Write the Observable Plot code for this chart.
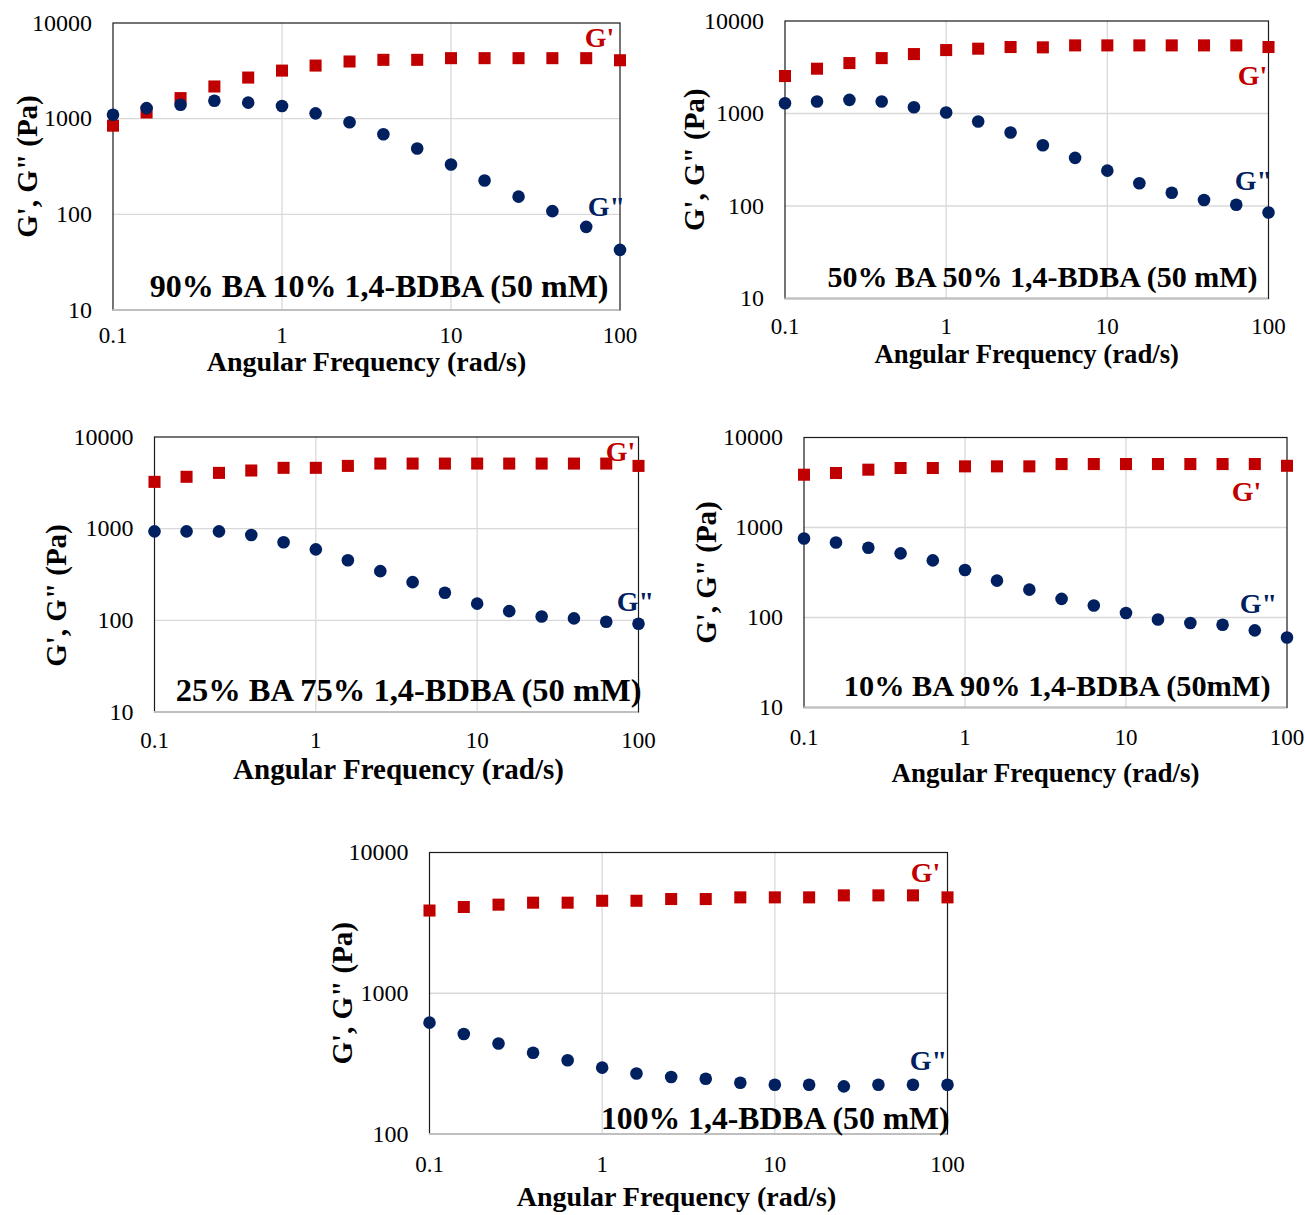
<!DOCTYPE html>
<html>
<head>
<meta charset="utf-8">
<script src="https://cdn.jsdelivr.net/npm/d3@7"></script>
<script src="https://cdn.jsdelivr.net/npm/@observablehq/plot@0.6"></script>
<style>
  body { margin: 0; background: #fff; }
  #fig { position: relative; width: 1305px; height: 1215px; background: #fff; overflow: hidden; }
</style>
</head>
<body>
<div id="fig"></div>
<script>
// ---------- DATA ----------
const freq = [0.1, 0.158, 0.251, 0.398, 0.631, 1, 1.58, 2.51, 3.98, 6.31, 10, 15.8, 25.1, 39.8, 63.1, 100];
const xTicks = [0.1, 1, 10, 100];
const xGrid = [1, 10];
const yTicksA = [10, 100, 1000, 10000];
const yTicksB = [100, 1000, 10000];
const panelTitles = [
  "90% BA 10% 1,4-BDBA (50 mM)",
  "50% BA 50% 1,4-BDBA (50 mM)",
  "25% BA 75% 1,4-BDBA (50 mM)",
  "10% BA 90% 1,4-BDBA (50mM)",
  "100% 1,4-BDBA (50 mM)"
];
const xTitle = "Angular Frequency (rad/s)";
const yTitle = "G', G\" (Pa)";
const gPrimeLabel = "G'";
const gDoubleLabel = "G\"";

const p1GPrime  = [845, 1160, 1640, 2170, 2690, 3180, 3590, 3960, 4120, 4120, 4290, 4290, 4290, 4290, 4290, 4080];
const p1GDouble = [1100, 1290, 1400, 1540, 1470, 1355, 1136, 916, 687, 487, 332, 226, 153, 108, 74, 42.5];
const p2GPrime  = [2540, 3050, 3510, 3970, 4390, 4850, 5020, 5230, 5190, 5450, 5450, 5450, 5450, 5450, 5450, 5230];
const p2GDouble = [1290, 1350, 1405, 1350, 1170, 1025, 819, 622, 454, 331, 241, 176, 139, 116, 103, 85];
const p3GPrime  = [3240, 3680, 4060, 4310, 4610, 4610, 4840, 5130, 5130, 5130, 5130, 5130, 5130, 5130, 5130, 4840];
const p3GDouble = [935, 935, 935, 853, 710, 595, 452, 344, 261, 200, 152, 126, 110, 105, 96.6, 91.8];
const p4GPrime  = [3860, 4030, 4390, 4580, 4580, 4780, 4780, 4780, 5070, 5070, 5070, 5070, 5070, 5070, 5070, 4850];
const p4GDouble = [755, 682, 596, 516, 431, 337, 257, 204, 161, 136, 112, 95, 87, 83, 72, 60];
const p5GPrime  = [3870, 4100, 4260, 4400, 4400, 4540, 4540, 4670, 4670, 4800, 4800, 4800, 4960, 4960, 4960, 4800];
const p5GDouble = [618, 514, 439, 378, 334, 296, 269, 254, 247, 231, 224, 224, 218, 224, 224, 224];

const gPrimeSets = [p1GPrime, p2GPrime, p3GPrime, p4GPrime, p5GPrime];
const gDoubleSets = [p1GDouble, p2GDouble, p3GDouble, p4GDouble, p5GDouble];

// ---------- LAYOUT (page coordinates) ----------
const layouts = [
  { svg: {left: 0, top: 0, width: 650, height: 380},
    frame: {l: 112.5, r: 619.5, t: 22.5, b: 309.5}, yDomain: [10, 10000], yTicks: yTicksA, yGrid: [100, 1000],
    xPad: 16.5, xT: {cy: 362, dx: 0, size: 28}, yT: {cx: 27, dy: 0, size: 29},
    ann: {right: 608, cy: 286, size: 32}, gp: {cx: 599, cy: 38}, gdp: {cx: 606, cy: 207} },
  { svg: {left: 665, top: 0, width: 640, height: 375},
    frame: {l: 784.5, r: 1268, t: 20.5, b: 298}, yDomain: [10, 10000], yTicks: yTicksA, yGrid: [100, 1000],
    xPad: 19, xT: {cy: 354, dx: 0, size: 26.7}, yT: {cx: 694, dy: 0, size: 29},
    ann: {right: 1257, cy: 277, size: 30}, gp: {cx: 1252, cy: 76}, gdp: {cx: 1253, cy: 181} },
  { svg: {left: 20, top: 410, width: 645, height: 385},
    frame: {l: 154, r: 638, t: 436.5, b: 711.5}, yDomain: [10, 10000], yTicks: yTicksA, yGrid: [100, 1000],
    xPad: 19.5, xT: {cy: 769, dx: 2, size: 29}, yT: {cx: 56, dy: 21, size: 29},
    ann: {right: 641, cy: 690, size: 32.5}, gp: {cx: 620, cy: 452}, gdp: {cx: 635, cy: 602} },
  { svg: {left: 670, top: 410, width: 635, height: 390},
    frame: {l: 803.5, r: 1286.5, t: 437, b: 707}, yDomain: [10, 10000], yTicks: yTicksA, yGrid: [100, 1000],
    xPad: 21, xT: {cy: 773, dx: 0, size: 27}, yT: {cx: 706, dy: 0, size: 29},
    ann: {right: 1270, cy: 686, size: 30.3}, gp: {cx: 1246, cy: 492}, gdp: {cx: 1258, cy: 604} },
  { svg: {left: 310, top: 820, width: 680, height: 395},
    frame: {l: 429, r: 947, t: 852, b: 1133.5}, yDomain: [100, 10000], yTicks: yTicksB, yGrid: [1000],
    xPad: 22, xT: {cy: 1197, dx: -12, size: 28}, yT: {cx: 342, dy: 0, size: 29},
    ann: {right: 949, cy: 1118, size: 31.7}, gp: {cx: 925, cy: 873}, gdp: {cx: 928, cy: 1061} }
];

const RED = "#C00000";
const BLUE = "#002060";
const FONT = "'Liberation Serif', 'Times New Roman', Times, serif";

const fig = document.getElementById("fig");

layouts.forEach((L, i) => {
  const f = L.frame, s = L.svg;
  const gp = freq.map((x, j) => ({x, y: gPrimeSets[i][j]}));
  const gdp = freq.map((x, j) => ({x, y: gDoubleSets[i][j]}));
  const chart = Plot.plot({
    width: s.width,
    height: s.height,
    marginLeft: f.l - s.left,
    marginRight: s.left + s.width - f.r,
    marginTop: f.t - s.top,
    marginBottom: s.top + s.height - f.b,
    style: {background: "transparent", fontFamily: FONT, fontSize: "24px", color: "#000", overflow: "visible"},
    x: {type: "log", domain: [0.1, 100]},
    y: {type: "log", domain: L.yDomain},
    marks: [
      Plot.gridX(xGrid, {stroke: "#d9d9d9", strokeOpacity: 1, strokeWidth: 1.3}),
      Plot.gridY(L.yGrid, {stroke: "#d9d9d9", strokeOpacity: 1, strokeWidth: 1.3}),
      Plot.frame({stroke: "#1a1a1a", strokeWidth: 1.2}),
      Plot.ruleY([L.yDomain[0]], {stroke: "#bfbfbf", strokeWidth: 2}),
      Plot.axisX(xTicks, {tickSize: 0, tickPadding: L.xPad, tickFormat: d => String(d), fontSize: 23, label: null}),
      Plot.axisY(L.yTicks, {tickSize: 0, tickPadding: 21, tickFormat: d => String(d), fontSize: 24, label: null}),
      Plot.dot(gp, {x: "x", y: "y", symbol: "square", r: 6.8, fill: RED, stroke: "none"}),
      Plot.dot(gdp, {x: "x", y: "y", r: 6.3, fill: BLUE, stroke: "none"}),
      Plot.text([panelTitles[i]], {text: d => d, frameAnchor: "bottom-right", textAnchor: "end", lineAnchor: "middle",
        dx: L.ann.right - f.r, dy: L.ann.cy - f.b, fontSize: L.ann.size, fontWeight: "bold", fill: "#000"}),
      Plot.text([gPrimeLabel], {text: d => d, frameAnchor: "top-left", textAnchor: "middle", lineAnchor: "middle",
        dx: L.gp.cx - f.l, dy: L.gp.cy - f.t, fontSize: 28, fontWeight: "bold", fill: RED}),
      Plot.text([gDoubleLabel], {text: d => d, frameAnchor: "top-left", textAnchor: "middle", lineAnchor: "middle",
        dx: L.gdp.cx - f.l, dy: L.gdp.cy - f.t, fontSize: 28, fontWeight: "bold", fill: BLUE}),
      Plot.text([xTitle], {text: d => d, frameAnchor: "bottom", textAnchor: "middle", lineAnchor: "middle",
        dx: L.xT.dx, dy: L.xT.cy - f.b, fontSize: L.xT.size, fontWeight: "bold", fill: "#000"}),
      Plot.text([yTitle], {text: d => d, frameAnchor: "left", textAnchor: "middle", lineAnchor: "middle", rotate: -90,
        dx: L.yT.cx - f.l, dy: L.yT.dy, fontSize: L.yT.size, fontWeight: "bold", fill: "#000"})
    ]
  });
  chart.style.position = "absolute";
  chart.style.left = s.left + "px";
  chart.style.top = s.top + "px";
  chart.style.maxWidth = "none";
  fig.appendChild(chart);
});
</script>
</body>
</html>
